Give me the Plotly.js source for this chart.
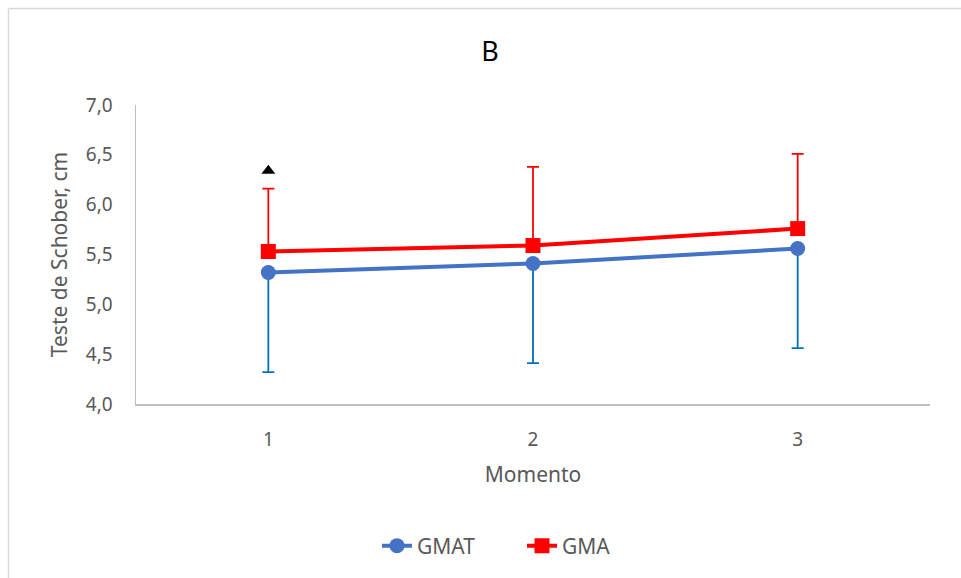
<!DOCTYPE html>
<html>
<head>
<meta charset="utf-8">
<script src="https://cdn.plot.ly/plotly-3.0.1.min.js"></script>
<style>
html,body{margin:0;padding:0;background:#fff;}
#chart{width:961px;height:578px;}
</style>
</head>
<body>
<div id="chart"></div>
<script>
const categories = ['1', '2', '3'];
const gmatValues = [5.32, 5.41, 5.56];
const gmatErrMinus = [1.0, 1.0, 1.0];
const gmaValues = [5.53, 5.59, 5.76];
const gmaErrPlus = [0.63, 0.79, 0.75];
const markCategory = ['1'];
const markValue = [6.34];
const yTickVals = [4.0, 4.5, 5.0, 5.5, 6.0, 6.5, 7.0];
const yTickText = ['4,0', '4,5', '5,0', '5,5', '6,0', '6,5', '7,0'];

const font = "'Noto Sans', 'Open Sans', sans-serif";

const traces = [
  {
    name: 'GMAT', x: categories, y: gmatValues, type: 'scatter', mode: 'lines+markers',
    line: {color: '#4472C4', width: 4},
    marker: {symbol: 'circle', size: 15, color: '#4472C4'},
    error_y: {type: 'data', symmetric: false, array: [0, 0, 0], arrayminus: gmatErrMinus,
              color: '#0070C0', thickness: 1.8, width: 6}
  },
  {
    name: 'GMA', x: categories, y: gmaValues, type: 'scatter', mode: 'lines+markers',
    line: {color: '#FF0000', width: 4},
    marker: {symbol: 'square', size: 15, color: '#FF0000'},
    error_y: {type: 'data', symmetric: false, array: gmaErrPlus, arrayminus: [0, 0, 0],
              color: '#FF0000', thickness: 1.8, width: 6}
  },
  {
    x: markCategory, y: markValue, type: 'scatter', mode: 'markers', showlegend: false,
    marker: {symbol: 'triangle-up', size: 12, color: '#000000'}, hoverinfo: 'skip'
  }
];

const pxX = px => (px - 136) / 794;
const pxY = py => (404 - py) / 299;

const layout = {
  width: 961, height: 578,
  margin: {l: 136, r: 31, t: 105, b: 174},
  paper_bgcolor: '#fff', plot_bgcolor: '#fff',
  font: {family: font, color: '#595959', size: 19},
  title: {text: 'B', font: {family: font, size: 27, color: '#000000'}, x: 490 / 961, xanchor: 'center', y: 0.91, yanchor: 'middle'},
  xaxis: {
    type: 'category', range: [-0.5, 2.5],
    showline: true, linecolor: '#BFBFBF', linewidth: 1.5,
    showgrid: false, zeroline: false, ticks: '',
    tickfont: {size: 19, color: '#595959'},
    ticklabelstandoff: 18,
    title: {text: 'Momento', font: {size: 21, color: '#595959'}, standoff: 16}
  },
  yaxis: {
    range: [4.0, 7.0], tickvals: yTickVals, ticktext: yTickText,
    showline: true, linecolor: '#BFBFBF', linewidth: 1.5,
    showgrid: false, zeroline: false, ticks: '',
    tickfont: {size: 19, color: '#595959'},
    ticklabelstandoff: 18,
    title: {text: 'Teste de Schober, cm', font: {size: 21, color: '#595959'}, standoff: 12}
  },
  legend: {orientation: 'h', x: pxX(377), xanchor: 'left', y: pxY(546), yanchor: 'middle',
           font: {size: 21, color: '#595959'}, entrywidth: 100, entrywidthmode: 'pixels',
           traceorder: 'normal'},
  shapes: [
    {type: 'line', xref: 'paper', yref: 'paper', x0: pxX(8.5), x1: pxX(970), y0: pxY(8.5), y1: pxY(8.5),
     line: {color: '#D9D9D9', width: 1.5}},
    {type: 'line', xref: 'paper', yref: 'paper', x0: pxX(8.5), x1: pxX(8.5), y0: pxY(8.5), y1: pxY(590),
     line: {color: '#D9D9D9', width: 1.5}}
  ],
  showlegend: true
};

Plotly.newPlot('chart', traces, layout, {displayModeBar: false, staticPlot: true});
</script>
</body>
</html>
